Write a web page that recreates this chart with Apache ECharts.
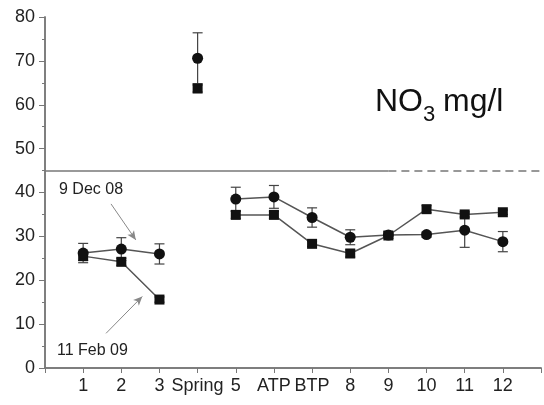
<!doctype html>
<html>
<head>
<meta charset="utf-8">
<script src="https://cdn.jsdelivr.net/npm/echarts@6/dist/echarts.min.js"></script>
<style>
    html, body { margin: 0; padding: 0; background: #fff; }
    #chart { width: 544px; height: 405px; }
</style>
</head>
<body>
<div id="chart"></div>
<script>
    // sites along the stream (x positions 1..12)
    var sites = ['1', '2', '3', 'Spring', '5', 'ATP', 'BTP', '8', '9', '10', '11', '12'];
    var springIndex = 3;

    // 9 Dec 08 (circles)
    var dec08 = [26.2, 27.1, 26.0, 70.6, 38.5, 39.0, 34.3, 29.8, 30.3, 30.4, 31.4, 28.8];
    var dec08Err = [2.2, 2.6, 2.3, 5.8, 2.7, 2.6, 2.2, 1.7, 0.8, 0.6, 3.9, 2.3];

    // 11 Feb 09 (squares)
    var feb09 = [25.5, 24.2, 15.6, 63.7, 34.9, 34.9, 28.3, 26.1, 30.2, 36.2, 35.0, 35.5];
    var feb09Err = [1.0, 0.8, 0.6, 0.8, 0.8, 0.8, 0.6, 0.8, 0.6, 0.8, 0.6, 0.5];

    var yTicks = [0, 10, 20, 30, 40, 50, 60, 70, 80];
    var splitValue = 45;

    // line data: spring is plotted alone, not joined to its neighbours
    function lineData(vals) {
        var out = [];
        for (var i = 0; i < vals.length; i++) {
            if (i == springIndex) out.push([i + 0.5, '-']);
            out.push([i + 1, vals[i]]);
            if (i == springIndex) out.push([i + 1.5, '-']);
        }
        return out;
    }

    function errData(vals, errs) {
        var out = [];
        for (var i = 0; i < vals.length; i++) {
            out.push([i + 1, vals[i] - errs[i], vals[i] + errs[i]]);
        }
        return out;
    }

    function renderErr(params, api) {
        var x = api.value(0);
        var lo = api.coord([x, api.value(1)]);
        var hi = api.coord([x, api.value(2)]);
        var w = 5;
        var style = {stroke: '#444', lineWidth: 1.2};
        return {
            type: 'group',
            children: [
                {type: 'line', shape: {x1: lo[0], y1: lo[1], x2: hi[0], y2: hi[1]}, style: style},
                {type: 'line', shape: {x1: lo[0] - w, y1: lo[1], x2: lo[0] + w, y2: lo[1]}, style: style},
                {type: 'line', shape: {x1: hi[0] - w, y1: hi[1], x2: hi[0] + w, y2: hi[1]}, style: style}
            ]
        };
    }

    var axisGrey = '#777';
    var myChart = echarts.init(document.getElementById('chart'));

    var option = {
        animation: false,
        grid: {left: 45, top: 17, width: 500, bottom: 37},
        xAxis: [
            {
                type: 'value',
                min: 0,
                max: 13,
                interval: 1,
                axisLine: {lineStyle: {color: axisGrey, width: 1.5}},
                axisTick: {length: 5, lineStyle: {color: axisGrey}},
                splitLine: {show: false},
                axisLabel: {
                    color: '#222',
                    fontSize: 18,
                    fontFamily: 'Liberation Sans, Arial, sans-serif',
                    margin: 9,
                    formatter: function (v) {
                        return sites[v - 1] || '';
                    }
                }
            },
            {
                type: 'value',
                position: 'top',
                min: 0,
                max: 13,
                axisLine: {show: true, lineStyle: {color: axisGrey, width: 1.5}},
                axisTick: {show: false},
                axisLabel: {show: false},
                splitLine: {show: false}
            }
        ],
        yAxis: [
            {
                type: 'value',
                min: yTicks[0],
                max: yTicks[yTicks.length - 1],
                interval: 10,
                axisLine: {show: true, lineStyle: {color: axisGrey, width: 1.5}},
                axisTick: {show: true, length: 6, lineStyle: {color: axisGrey}},
                minorTick: {show: true, splitNumber: 2, length: 3, lineStyle: {color: axisGrey}},
                splitLine: {show: false},
                axisLabel: {
                    color: '#222',
                    fontSize: 18,
                    fontFamily: 'Liberation Sans, Arial, sans-serif',
                    margin: 10
                }
            },
            {
                type: 'value',
                position: 'right',
                min: 0,
                max: 80,
                interval: 10,
                axisLine: {show: true, lineStyle: {color: axisGrey, width: 1.5}},
                axisTick: {show: true, inside: true, length: 5, lineStyle: {color: axisGrey}},
                minorTick: {show: true, splitNumber: 2, length: 3, lineStyle: {color: axisGrey}},
                splitLine: {show: false},
                axisLabel: {show: false}
            }
        ],
        graphic: [
            {type: 'text', left: 375, top: 86, style: {text: 'NO', fontSize: 32, fill: '#111', fontFamily: 'Liberation Sans, Arial, sans-serif'}},
            {type: 'text', left: 423, top: 104, style: {text: '3', fontSize: 22, fill: '#111', fontFamily: 'Liberation Sans, Arial, sans-serif'}},
            {type: 'text', left: 443, top: 86, style: {text: 'mg/l', fontSize: 32, fill: '#111', fontFamily: 'Liberation Sans, Arial, sans-serif'}},
            {type: 'text', left: 59, top: 182, style: {text: '9 Dec 08', fontSize: 16, fill: '#222', fontFamily: 'Liberation Sans, Arial, sans-serif'}},
            {type: 'text', left: 57, top: 343, style: {text: '11 Feb 09', fontSize: 16, fill: '#222', fontFamily: 'Liberation Sans, Arial, sans-serif'}}
        ],
        series: [
            {
                type: 'custom',
                name: 'dec08 err',
                renderItem: renderErr,
                encode: {x: 0, y: [1, 2]},
                data: errData(dec08, dec08Err),
                z: 1,
                silent: true
            },
            {
                type: 'custom',
                name: 'feb09 err',
                renderItem: renderErr,
                encode: {x: 0, y: [1, 2]},
                data: errData(feb09, feb09Err),
                z: 1,
                silent: true
            },
            {
                type: 'line',
                name: '11 Feb 09',
                data: lineData(feb09),
                symbol: 'rect',
                symbolSize: 10,
                showAllSymbol: true,
                lineStyle: {color: '#555', width: 1.5},
                itemStyle: {color: '#111'},
                z: 3,
                silent: true,
                markLine: {
                    silent: true,
                    symbol: ['none', 'none'],
                    label: {show: false},
                    lineStyle: {color: axisGrey, width: 1.5, type: 'solid'},
                    data: [
                        [{coord: [0, splitValue]}, {coord: [9, splitValue]}],
                        [{coord: [9, splitValue], lineStyle: {type: [8, 5]}}, {coord: [13, splitValue]}]
                    ]
                }
            },
            {
                type: 'line',
                name: '9 Dec 08',
                data: lineData(dec08),
                symbol: 'circle',
                symbolSize: 11,
                showAllSymbol: true,
                lineStyle: {color: '#555', width: 1.5},
                itemStyle: {color: '#111'},
                z: 4,
                silent: true,
                markLine: {
                    silent: true,
                    symbol: ['none', 'arrow'],
                    symbolSize: [6, 9],
                    label: {show: false},
                    lineStyle: {color: '#888', width: 1, type: 'solid'},
                    data: [
                        [{coord: [1.73, 37.4]}, {coord: [2.38, 29.2]}],
                        [{coord: [1.60, 7.9]}, {coord: [2.55, 16.3]}]
                    ]
                }
            }
        ]
    };

    myChart.setOption(option);
</script>
</body>
</html>
